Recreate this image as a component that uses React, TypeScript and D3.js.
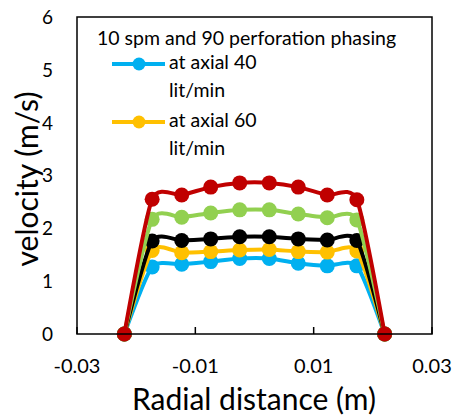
import React from "react";
import * as d3 from "d3";

const radial = [-0.022, -0.0173, -0.0123, -0.0074, -0.0025, 0.0025, 0.0074, 0.0123, 0.0173, 0.022];
const blueSeries = [0, 1.27, 1.32, 1.37, 1.43, 1.43, 1.34, 1.29, 1.29, 0];
const yellowSeries = [0, 1.58, 1.54, 1.56, 1.59, 1.6, 1.56, 1.55, 1.57, 0];
const blackSeries = [0, 1.76, 1.77, 1.8, 1.84, 1.84, 1.8, 1.78, 1.77, 0];
const greenSeries = [0, 2.17, 2.21, 2.29, 2.35, 2.35, 2.27, 2.2, 2.16, 0];
const redSeries = [0, 2.55, 2.63, 2.78, 2.86, 2.86, 2.78, 2.63, 2.54, 0];
const xTicks = [-0.03, -0.01, 0.01, 0.03];
const xTickLabels = ["-0.03", "-0.01", "0.01", "0.03"];
const yTicks = [0, 1, 2, 3, 4, 5, 6];
const legendTitle = "10 spm and 90 perforation phasing";
const legendNames = [["at axial 40", "lit/min"], ["at axial 60", "lit/min"]];

const series = [
  { values: blueSeries, color: "#00B0F0" },
  { values: yellowSeries, color: "#FFC000" },
  { values: blackSeries, color: "#000000" },
  { values: greenSeries, color: "#92D050" },
  { values: redSeries, color: "#C00000" },
];

const FONT = "Lato, 'Noto Sans', sans-serif";

export default function App() {
  const left = 77, right = 432, top = 17, bottom = 334;
  const x = d3.scaleLinear().domain([-0.03, 0.03]).range([left, right]);
  const y = d3.scaleLinear().domain([0, 6]).range([bottom, top]);
  const line = d3
    .line<[number, number]>()
    .x((d) => x(d[0]))
    .y((d) => y(d[1]))
    .curve(d3.curveCardinal.tension(0.35));

  return (
    <svg
      width={454}
      height={418}
      style={{ position: "absolute", left: 0, top: 0, background: "#fff" }}
      fontFamily={FONT}
    >
      <rect x={0} y={0} width={454} height={418} fill="#fff" />
      {xTicks.map((t) => (
        <line key={"xt" + t} x1={x(t)} x2={x(t)} y1={bottom} y2={bottom - 7} stroke="#000" strokeWidth={1.5} />
      ))}
      {series.map((s, i) => {
        const pts: [number, number][] = radial.map((r, j) => [r, s.values[j]]);
        return (
          <g key={i}>
            <path d={line(pts) || ""} fill="none" stroke={s.color} strokeWidth={4} />
            {pts.map((p, j) => (
              <circle key={j} cx={x(p[0])} cy={y(p[1])} r={7.5} fill={s.color} />
            ))}
          </g>
        );
      })}
      <rect x={left} y={top} width={right - left} height={bottom - top} fill="none" stroke="#000" strokeWidth={1.5} />
      {yTicks.map((t) => (
        <text key={"yl" + t} x={53} y={y(t)} dy="0.36em" textAnchor="end" fontSize={19} fill="#000">
          {t}
        </text>
      ))}
      {xTicks.map((t, i) => (
        <text key={"xl" + t} x={x(t)} y={373} textAnchor="middle" fontSize={20} fill="#000">
          {xTickLabels[i]}
        </text>
      ))}
      <text x={254} y={410} textAnchor="middle" fontSize={30} fill="#000">
        Radial distance (m)
      </text>
      <text transform="translate(38,179) rotate(-90)" textAnchor="middle" fontSize={30} fill="#000">
        velocity (m/s)
      </text>
      <text x={97} y={45} fontSize={19.5} fill="#000">
        {legendTitle}
      </text>
      {legendNames.map((names, i) => {
        const ly = i === 0 ? 64 : 122;
        const c = series[i].color;
        return (
          <g key={"lg" + i}>
            <line x1={112} x2={165} y1={ly} y2={ly} stroke={c} strokeWidth={4} />
            <circle cx={139} cy={ly} r={6.5} fill={c} />
            <text x={169} y={ly + 5} fontSize={19.5} fill="#000">
              {names[0]}
            </text>
            <text x={169} y={ly + 33} fontSize={19.5} fill="#000">
              {names[1]}
            </text>
          </g>
        );
      })}
    </svg>
  );
}
